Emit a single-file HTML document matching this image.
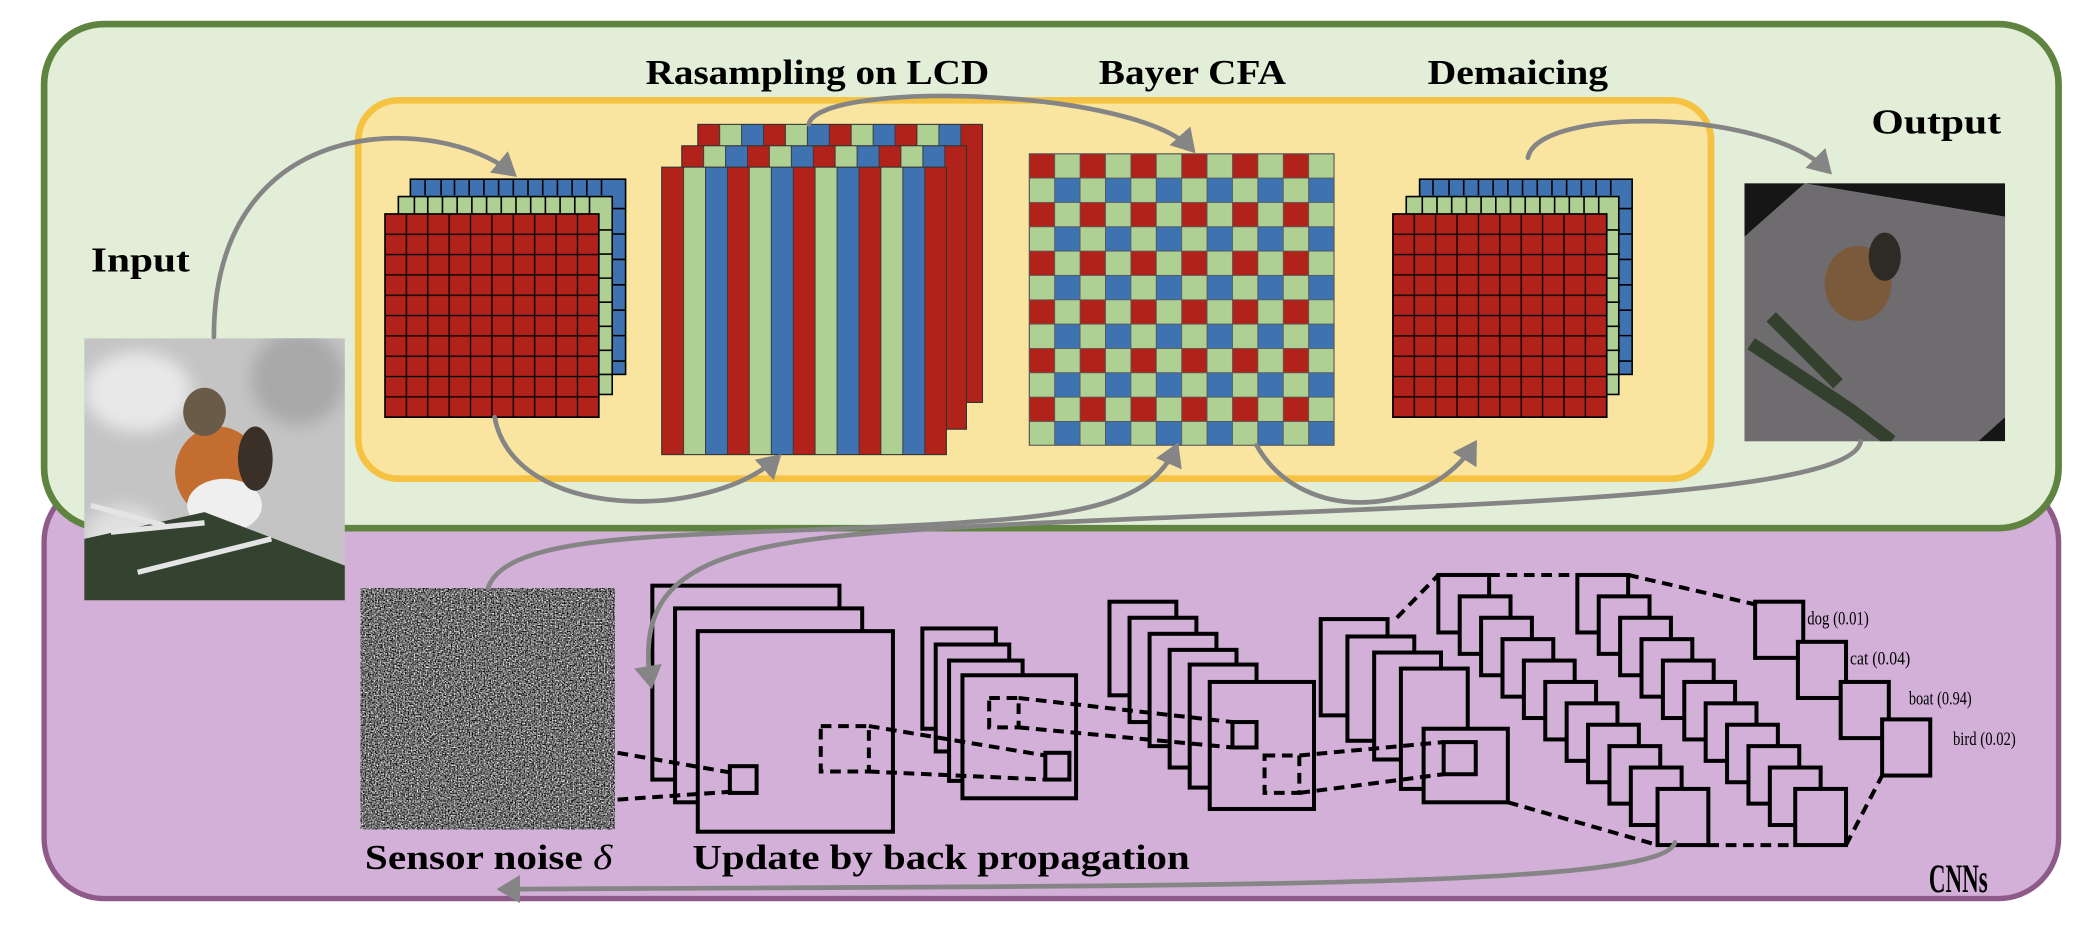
<!DOCTYPE html>
<html><head><meta charset="utf-8"><style>html,body{margin:0;padding:0;background:#fff}svg{display:block}</style></head>
<body>
<svg width="2096" height="936" viewBox="0 0 1568 700" preserveAspectRatio="none" xmlns="http://www.w3.org/2000/svg">
<defs>
<pattern id="gR" x="288" y="160" width="16" height="15.2" patternUnits="userSpaceOnUse"><rect width="16" height="15.2" fill="#b0221a" stroke="#000" stroke-width="1"/></pattern>
<pattern id="gR2" x="1042" y="160" width="16" height="15.2" patternUnits="userSpaceOnUse"><rect width="16" height="15.2" fill="#b0221a" stroke="#000" stroke-width="1"/></pattern>
<pattern id="stripe" x="495" y="0" width="49.2" height="700" patternUnits="userSpaceOnUse"><rect x="0" width="16.4" height="700" fill="#b0221a" stroke="#333" stroke-width=".6"/><rect x="16.4" width="16.4" height="700" fill="#aed092" stroke="#333" stroke-width=".6"/><rect x="32.8" width="16.4" height="700" fill="#3f72b0" stroke="#333" stroke-width=".6"/></pattern>
<pattern id="stripe2" x="510" y="0" width="49.2" height="700" patternUnits="userSpaceOnUse"><rect x="0" width="16.4" height="700" fill="#b0221a" stroke="#333" stroke-width=".6"/><rect x="16.4" width="16.4" height="700" fill="#aed092" stroke="#333" stroke-width=".6"/><rect x="32.8" width="16.4" height="700" fill="#3f72b0" stroke="#333" stroke-width=".6"/></pattern>
<pattern id="stripe3" x="522" y="0" width="49.2" height="700" patternUnits="userSpaceOnUse"><rect x="0" width="16.4" height="700" fill="#b0221a" stroke="#333" stroke-width=".6"/><rect x="16.4" width="16.4" height="700" fill="#aed092" stroke="#333" stroke-width=".6"/><rect x="32.8" width="16.4" height="700" fill="#3f72b0" stroke="#333" stroke-width=".6"/></pattern>
<pattern id="bayer" x="770" y="115" width="38" height="36.4" patternUnits="userSpaceOnUse">
<rect x="0" y="0" width="19" height="18.2" fill="#b0221a" stroke="#555" stroke-width=".6"/>
<rect x="19" y="0" width="19" height="18.2" fill="#aed092" stroke="#555" stroke-width=".6"/>
<rect x="0" y="18.2" width="19" height="18.2" fill="#aed092" stroke="#555" stroke-width=".6"/>
<rect x="19" y="18.2" width="19" height="18.2" fill="#3f72b0" stroke="#555" stroke-width=".6"/>
</pattern>
<filter id="noise" x="0" y="0" width="100%" height="100%" color-interpolation-filters="sRGB"><feTurbulence type="fractalNoise" baseFrequency="0.9" numOctaves="2" seed="3"/><feColorMatrix type="matrix" values="0.33 0.33 0.33 0 0  0.33 0.33 0.33 0 0  0.33 0.33 0.33 0 0  0 0 0 0 1"/><feComponentTransfer><feFuncR type="linear" slope="3.2" intercept="-1.15"/><feFuncG type="linear" slope="3.2" intercept="-1.15"/><feFuncB type="linear" slope="3.2" intercept="-1.15"/></feComponentTransfer></filter>
<filter id="blur"><feGaussianBlur stdDeviation="6"/></filter>
<marker id="ah" markerWidth="6" markerHeight="6" refX="4" refY="3" orient="auto" markerUnits="strokeWidth"><path d="M0,0 L5,3 L0,6 z" fill="#858585"/></marker>
</defs>

<rect x="33" y="360" width="1507" height="312" rx="45" fill="#d2b0d8" stroke="#8e5a8a" stroke-width="4"/>
<rect x="33" y="18" width="1507" height="377" rx="45" fill="#e2eed8" stroke="#5f8440" stroke-width="5"/>
<rect x="268" y="75" width="1012" height="283" rx="30" fill="#fae5a0" stroke="#f5c242" stroke-width="5"/>

<g font-family="Liberation Serif, serif" font-weight="bold" fill="#000">
<text x="483" y="63" font-size="26" textLength="257" lengthAdjust="spacingAndGlyphs">Rasampling on LCD</text>
<text x="822" y="63" font-size="26" textLength="140" lengthAdjust="spacingAndGlyphs">Bayer CFA</text>
<text x="1068" y="63" font-size="26" textLength="135" lengthAdjust="spacingAndGlyphs">Demaicing</text>
<text x="1400" y="100" font-size="26" textLength="97" lengthAdjust="spacingAndGlyphs">Output</text>
<text x="68" y="203" font-size="26" textLength="74" lengthAdjust="spacingAndGlyphs">Input</text>
<text x="273" y="650" font-size="26" textLength="185" lengthAdjust="spacingAndGlyphs">Sensor noise <tspan font-style="italic" font-weight="normal">δ</tspan></text>
<text x="518" y="650" font-size="26" textLength="372" lengthAdjust="spacingAndGlyphs">Update by back propagation</text>
<text x="1443" y="667" font-size="30" textLength="44" lengthAdjust="spacingAndGlyphs">CNNs</text>
<g font-weight="normal" font-size="14">
<text x="1352" y="467" textLength="46" lengthAdjust="spacingAndGlyphs">dog (0.01)</text>
<text x="1384" y="497" textLength="45" lengthAdjust="spacingAndGlyphs">cat (0.04)</text>
<text x="1428" y="527" textLength="47" lengthAdjust="spacingAndGlyphs">boat (0.94)</text>
<text x="1461" y="557" textLength="47" lengthAdjust="spacingAndGlyphs">bird (0.02)</text>
</g>
</g>

<g stroke="#000" stroke-width="1.2">
<rect x="307" y="134" width="161" height="146" fill="#3f72b0"/>
<rect x="298" y="147" width="160" height="148" fill="#aed092"/>
<rect x="288" y="160" width="160" height="152" fill="url(#gR)"/>
<path d="M318,134v12M330,134v12M340,134v12M351,134v12M362,134v12M373,134v12M384,134v12M395,134v12M406,134v12M417,134v12M428,134v12M439,134v12M450,134v12M458,156h10M458,175h10M458,194h10M458,213h10M458,232h10M458,251h10M458,270h10M310,147v13M320,147v13M331,147v13M342,147v13M353,147v13M364,147v13M375,147v13M386,147v13M397,147v13M408,147v13M419,147v13M430,147v13M441,147v13M448,172h10M448,190h10M448,208h10M448,226h10M448,244h10M448,262h10M448,280h10"/>
</g>
<g stroke="#000" stroke-width="1.2">
<rect x="1062" y="134" width="159" height="146" fill="#3f72b0"/>
<rect x="1052" y="147" width="159" height="148" fill="#aed092"/>
<rect x="1042" y="160" width="160" height="152" fill="url(#gR2)"/>
<path d="M1072,134v12M1084,134v12M1095,134v12M1106,134v12M1117,134v12M1128,134v12M1139,134v12M1150,134v12M1161,134v12M1172,134v12M1183,134v12M1194,134v12M1205,134v12M1211,156h10M1211,175h10M1211,194h10M1211,213h10M1211,232h10M1211,251h10M1211,270h10M1064,147v13M1075,147v13M1086,147v13M1097,147v13M1108,147v13M1119,147v13M1130,147v13M1141,147v13M1152,147v13M1163,147v13M1174,147v13M1185,147v13M1196,147v13M1202,172h10M1202,190h10M1202,208h10M1202,226h10M1202,244h10M1202,262h10M1202,280h10"/>
</g>

<rect x="522" y="93" width="213" height="208" fill="url(#stripe3)" stroke="#333" stroke-width=".8"/>
<rect x="510" y="109" width="213" height="212" fill="url(#stripe2)" stroke="#333" stroke-width=".8"/>
<rect x="495" y="125" width="213" height="215" fill="url(#stripe)" stroke="#333" stroke-width=".8"/>

<rect x="770" y="115" width="228" height="218" fill="url(#bayer)" stroke="#555" stroke-width=".8"/>

<svg x="63" y="253" width="195" height="196" viewBox="0 0 195 196">
<rect width="195" height="196" fill="#c4c4c4"/>
<g filter="url(#blur)">
<ellipse cx="40" cy="40" rx="40" ry="30" fill="#e8e8e8"/>
<ellipse cx="160" cy="30" rx="35" ry="35" fill="#a8a8a8"/>
<ellipse cx="30" cy="150" rx="30" ry="25" fill="#e0e0e0"/>
</g>
<ellipse cx="100" cy="100" rx="32" ry="34" fill="#c36e30"/>
<ellipse cx="105" cy="125" rx="28" ry="20" fill="#efefef"/>
<ellipse cx="90" cy="55" rx="16" ry="18" fill="#6a5a48"/>
<ellipse cx="128" cy="90" rx="13" ry="24" fill="#3a3028"/>
<path d="M0,150 L90,130 L195,170 L195,196 L0,196z" fill="#34432f"/>
<path d="M20,145 L90,138 M40,175 L140,150 M5,125 L60,140" stroke="#e4e4e4" stroke-width="4"/>
</svg>
<svg x="1305" y="137" width="195" height="193" viewBox="0 0 195 193">
<rect width="195" height="193" fill="#161616"/>
<polygon points="45,0 195,25 195,175 175,193 0,193 0,40" fill="#6f6c70"/>
<ellipse cx="85" cy="75" rx="25" ry="28" fill="#7a5a3a"/>
<ellipse cx="105" cy="55" rx="12" ry="18" fill="#2e2a26"/>
<path d="M5,120 L80,170 L110,193 M20,100 L70,150" stroke="#34402e" stroke-width="10"/>
</svg>

<rect x="270" y="440" width="190" height="180" filter="url(#noise)" fill="#777"/>

<g fill="none" stroke="#000" stroke-width="3">
<rect x="488" y="438" width="140" height="145"/>
<rect x="505" y="455" width="140" height="145" fill="#d2b0d8"/>
<rect x="522" y="472" width="146" height="150" fill="#d2b0d8"/>
<rect x="546" y="573" width="20" height="20"/>
<rect x="690" y="470" width="55" height="75" fill="#d2b0d8"/>
<rect x="700" y="482" width="55" height="80" fill="#d2b0d8"/>
<rect x="710" y="494" width="55" height="90" fill="#d2b0d8"/>
<rect x="720" y="505" width="85" height="92" fill="#d2b0d8"/>
<rect x="782" y="563" width="18" height="20"/>
<rect x="830" y="450" width="50" height="70" fill="#d2b0d8"/>
<rect x="845" y="462" width="50" height="78" fill="#d2b0d8"/>
<rect x="860" y="474" width="50" height="84" fill="#d2b0d8"/>
<rect x="875" y="486" width="50" height="88" fill="#d2b0d8"/>
<rect x="890" y="497" width="50" height="92" fill="#d2b0d8"/>
<rect x="905" y="510" width="78" height="95" fill="#d2b0d8"/>
<rect x="922" y="540" width="18" height="19"/>
<rect x="988" y="463" width="50" height="72" fill="#d2b0d8"/>
<rect x="1008" y="476" width="50" height="78" fill="#d2b0d8"/>
<rect x="1028" y="488" width="50" height="80" fill="#d2b0d8"/>
<rect x="1048" y="500" width="50" height="90" fill="#d2b0d8"/>
<rect x="1065" y="545" width="63" height="55" fill="#d2b0d8"/>
<rect x="1080" y="555" width="24" height="24"/>
<rect x="1076" y="430" width="38" height="43" fill="#d2b0d8"/>
<rect x="1092" y="446" width="38" height="43" fill="#d2b0d8"/>
<rect x="1108" y="462" width="38" height="43" fill="#d2b0d8"/>
<rect x="1124" y="478" width="38" height="43" fill="#d2b0d8"/>
<rect x="1140" y="494" width="38" height="43" fill="#d2b0d8"/>
<rect x="1156" y="510" width="38" height="43" fill="#d2b0d8"/>
<rect x="1172" y="526" width="38" height="43" fill="#d2b0d8"/>
<rect x="1188" y="542" width="38" height="43" fill="#d2b0d8"/>
<rect x="1204" y="558" width="38" height="43" fill="#d2b0d8"/>
<rect x="1220" y="574" width="38" height="43" fill="#d2b0d8"/>
<rect x="1240" y="590" width="38" height="42" fill="#d2b0d8"/>
<rect x="1180" y="430" width="38" height="43" fill="#d2b0d8"/>
<rect x="1196" y="446" width="38" height="43" fill="#d2b0d8"/>
<rect x="1212" y="462" width="38" height="43" fill="#d2b0d8"/>
<rect x="1228" y="478" width="38" height="43" fill="#d2b0d8"/>
<rect x="1244" y="494" width="38" height="43" fill="#d2b0d8"/>
<rect x="1260" y="510" width="38" height="43" fill="#d2b0d8"/>
<rect x="1276" y="526" width="38" height="43" fill="#d2b0d8"/>
<rect x="1292" y="542" width="38" height="43" fill="#d2b0d8"/>
<rect x="1308" y="558" width="38" height="43" fill="#d2b0d8"/>
<rect x="1324" y="574" width="38" height="43" fill="#d2b0d8"/>
<rect x="1343" y="590" width="38" height="42" fill="#d2b0d8"/>
<rect x="1313" y="450" width="36" height="42" fill="#d2b0d8"/>
<rect x="1345" y="480" width="36" height="42" fill="#d2b0d8"/>
<rect x="1377" y="510" width="36" height="42" fill="#d2b0d8"/>
<rect x="1408" y="538" width="36" height="42" fill="#d2b0d8"/>
</g>
<g fill="none" stroke="#000" stroke-width="3" stroke-dasharray="8,5">
<rect x="614" y="543" width="36" height="34"/>
<rect x="740" y="522" width="22" height="22"/>
<rect x="946" y="565" width="26" height="28"/>
<path d="M462,563 L548,578 M462,598 L548,592"/>
<path d="M650,543 L782,565 M650,577 L782,583"/>
<path d="M762,522 L922,540 M762,544 L922,559"/>
<path d="M972,565 L1080,555 M972,593 L1080,579"/>
<path d="M1045,462 L1076,430 M1114,430 L1180,430 M1218,430 L1313,452"/>
<path d="M1128,600 L1240,632 M1278,632 L1343,632 M1381,632 L1408,580"/>
</g>

<g fill="none" stroke="#858585" stroke-width="3.5" stroke-linecap="round">
<path d="M160,252 C160,80 330,85 384,130" marker-end="url(#ah)"/>
<path d="M370,312 C385,390 530,390 582,342" marker-end="url(#ah)"/>
<path d="M605,93 C612,60 850,65 892,112" marker-end="url(#ah)"/>
<path d="M365,440 C380,395 520,402 700,392 C800,386 860,380 880,334" marker-end="url(#ah)"/>
<path d="M940,333 C975,395 1070,385 1103,332" marker-end="url(#ah)"/>
<path d="M1143,118 C1150,80 1320,80 1368,128" marker-end="url(#ah)"/>
<path d="M1392,330 C1385,375 1050,378 760,392 C560,402 470,410 487,512" marker-end="url(#ah)"/>
<path d="M1253,630 C1245,665 900,662 375,665" marker-end="url(#ah)"/>
</g>
</svg>
</body></html>
